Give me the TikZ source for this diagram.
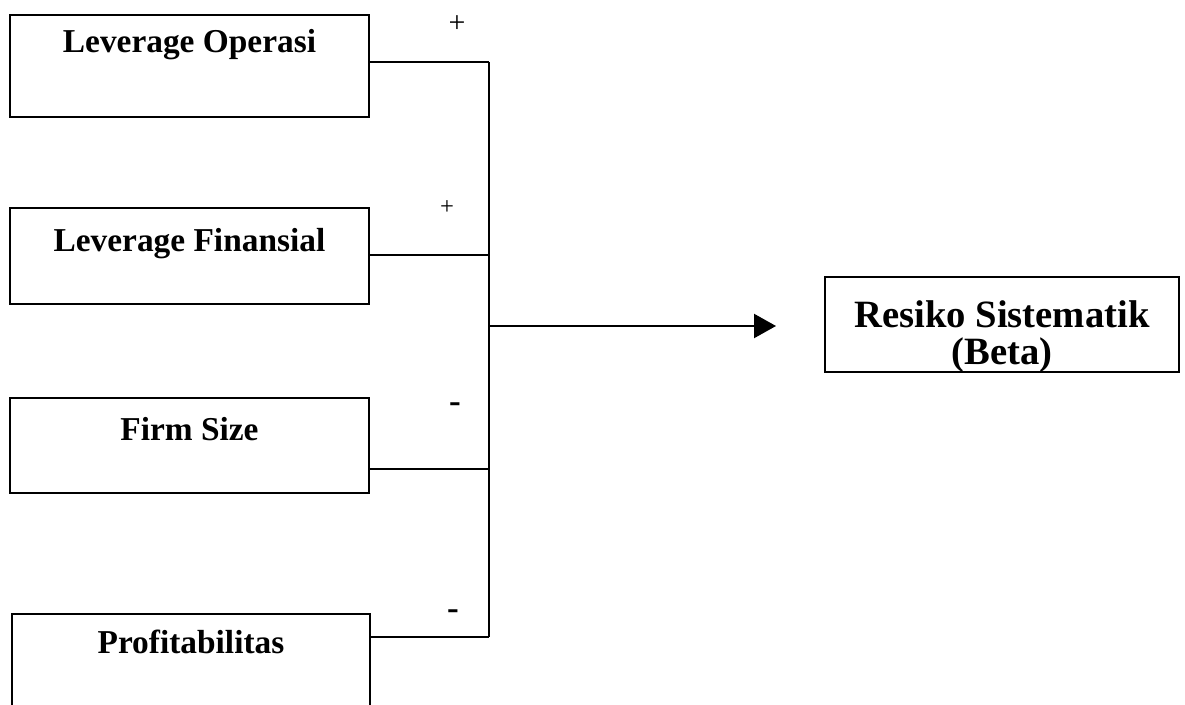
\documentclass[tikz,border=0pt]{standalone}
\usepackage{fontspec}
\setmainfont{Liberation Serif}
\usetikzlibrary{arrows.meta}

\begin{document}
\begin{tikzpicture}[x = 0.02cm, y = -0.02cm,
	var/.style = {draw, line width = 1.2pt, anchor = north west, minimum width = 7.18cm, inner ysep = 0pt, outer sep = 0pt, font = \fontsize{19}{22}\selectfont\bfseries},
	wire/.style = {line width = 1.3pt},
	sign/.style = {inner sep = 0pt}]
	\clip (0, 0) rectangle (1185, 705);

	\node[var, text height = 0.76cm, text depth = 1.28cm] (lo) at (10, 15) {Leverage Operasi};
	\node[var, text height = 0.88cm, text depth = 1.04cm] (lf) at (10, 208) {Leverage Finansial};
	\node[var, text height = 0.86cm, text depth = 1.04cm] (fs) at (10, 398) {Firm Size};
	\node[var, text height = 0.8cm, text depth = 1.3cm, minimum width = 7.16cm] (pr) at (12, 614) {Profitabilitas};
	\node[var, align = center, minimum width = 7.08cm, text height = 1.76cm, text depth = 0.14cm, font = \fontsize{22}{21.6}\selectfont\bfseries] (rs) at (825, 277) {Resiko Sistematik\\(Beta)};

	\coordinate (b1) at (489, 62);
	\coordinate (b2) at (489, 255);
	\coordinate (b3) at (489, 469);
	\coordinate (b4) at (489, 637);
	\coordinate (b0) at (489, 326);
	\coordinate (tip) at (776, 326);

	\draw[wire] (lo.east |- b1) -- (b1);
	\draw[wire] (lf.east |- b2) -- (b2);
	\draw[wire] (fs.east |- b3) -- (b3);
	\draw[wire] (pr.east |- b4) -- (b4);
	\draw[wire] (b1) -- (b4);
	\draw[wire, -{Triangle[length = 0.44cm, width = 0.48cm]}] (b0) -- (tip);

	\node[sign, font = \fontsize{17}{17}\selectfont] (s1) at (457, 24) {+};
	\node[sign, font = \fontsize{14}{14}\selectfont] (s2) at (447, 208) {+};
	\node[sign, font = \fontsize{20}{20}\selectfont\bfseries] (s3) at (455, 408) {-};
	\node[sign, font = \fontsize{20}{20}\selectfont\bfseries] (s4) at (453, 615) {-};
\end{tikzpicture}
\end{document}
